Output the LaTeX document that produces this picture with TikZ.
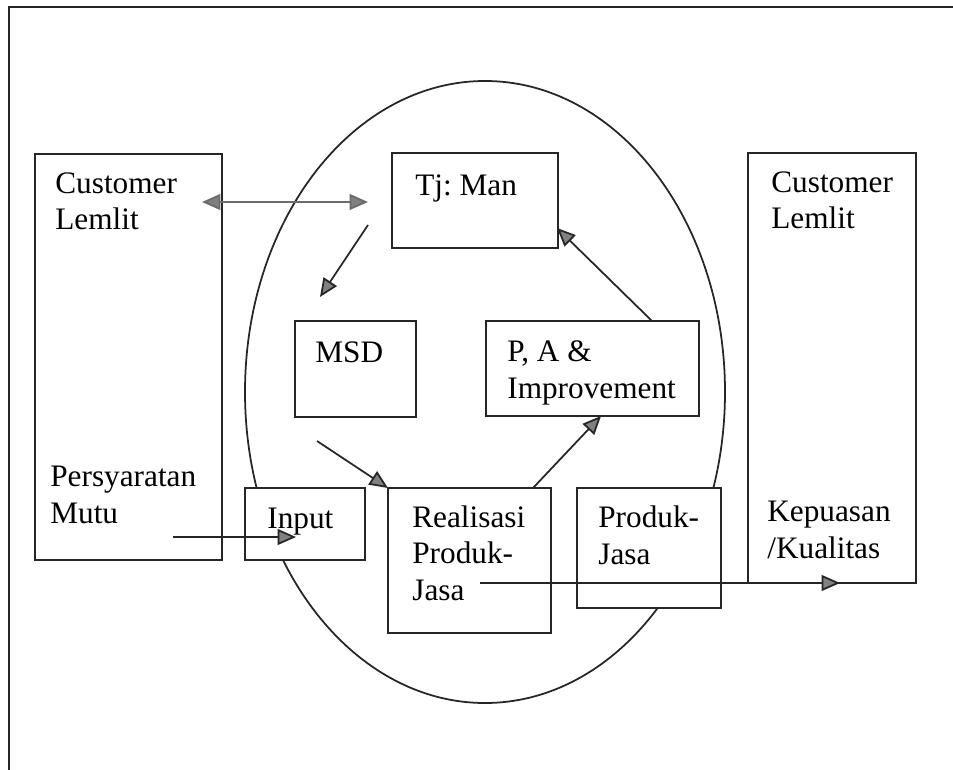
\documentclass[tikz,border=0pt]{standalone}
\usepackage{fontspec}
\setmainfont{Liberation Serif}
\usetikzlibrary{
  arrows.meta
  , positioning
  , calc
}

\tikzset{
  box/.style={draw=black!85, line width=1pt, fill=white, rectangle,
    inner sep=0pt, outer sep=0pt, anchor=north west},
  % base = baseline of the last line
  txt/.style={anchor=base west, inner sep=0pt, align=left,
    font=\fontsize{17.8}{20.5}\selectfont\frenchspacing},
  arr/.style={-{Triangle[length=10.5pt, width=9pt, fill=gray]}, line width=1pt, draw=black!85},
  darr/.style={{Triangle[length=10.5pt, width=9pt, fill=gray]}-{Triangle[length=10.5pt, width=9pt, fill=gray]},
    line width=1.1pt, draw=gray!85!black},
}

\begin{document}
\begin{tikzpicture}[x=0.02cm, y=-0.02cm]
  \useasboundingbox (0,0) rectangle (953,770);
  % frame, runs off the page
  \draw[line width=1pt, black!85] (9,770) -- (9,7) -- (953,7);

  % ellipse
  \draw[line width=1pt, black!85] (485,392) ellipse [x radius=240, y radius=311];

  % boxes
  \node[box, minimum width=3.74cm, minimum height=8.12cm] (custL) at (35,154) {};
  \node[box, minimum width=3.36cm, minimum height=8.60cm] (custR) at (748,153) {};
  \node[box, minimum width=3.32cm, minimum height=1.90cm] (tjman) at (392,153) {};
  \node[box, minimum width=2.42cm, minimum height=1.92cm] (msd) at (295,321) {};
  \node[box, minimum width=4.26cm, minimum height=1.90cm] (pa) at (486,321) {};
  \node[box, minimum width=2.40cm, minimum height=1.44cm] (input) at (245,488) {};
  \node[box, minimum width=3.26cm, minimum height=2.90cm] (realisasi) at (388,488) {};
  \node[box, minimum width=2.88cm, minimum height=2.40cm] (produk) at (577,488) {};

  % texts
  \node[txt] (custL-t) at (55,230) {Customer\\Lemlit};
  \node[txt] (syarat-t) at (50,523) {Persyaratan\\Mutu};
  \node[txt] (input-t) at (267,528) {Input};
  \node[txt] (realisasi-t) at (412,600) {Realisasi\\Produk-\\Jasa};
  \node[txt] (produk-t) at (598,564) {Produk-\\Jasa};
  \node[txt] (custR-t) at (771,229) {Customer\\Lemlit};
  \node[txt] (puas-t) at (767,558) {Kepuasan\\/Kualitas};
  \node[txt] (tjman-t) at (415,195) {Tj: Man};
  \node[txt] (msd-t) at (315,362) {MSD};
  \node[txt] (pa-t) at (507,398) {P, A \&\\Improvement};

  % free ends of the arrows
  \coordinate (cust-end) at (202,202);
  \coordinate (tj-end) at (368,202);
  \coordinate (tj-out) at (368,225);
  \coordinate (msd-in) at (320,297);
  \coordinate (msd-out) at (317,441);
  \coordinate (pa-in) at (601,416);
  \coordinate (tj-in) at (557,228);
  \coordinate (syarat-out) at (173,537);
  \coordinate (input-in) at (296,537);
  \coordinate (jasa-out) at (480,583);
  \coordinate (puas-in) at (840,583);

  % arrows
  \draw[darr] (cust-end) -- (tj-end);
  \draw[arr] (tj-out) -- (msd-in);
  \draw[arr] (msd-out) -- (realisasi.north west);
  \draw[arr] (realisasi.north west -| 533,0) -- (pa-in);
  \draw[arr] (pa.north west -| 652,0) -- (tj-in);
  \draw[arr] (syarat-out) -- (input-in);
  \draw[arr] (jasa-out) -- (puas-in);
\end{tikzpicture}
\end{document}
